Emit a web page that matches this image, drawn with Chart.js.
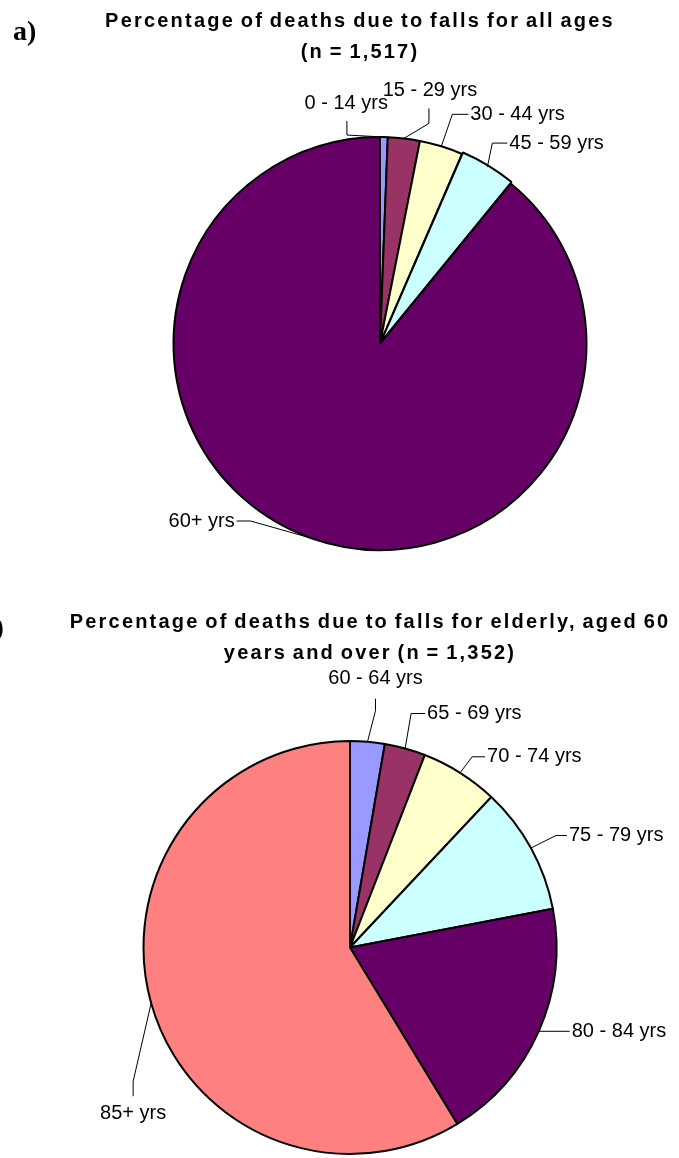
<!DOCTYPE html>
<html>
<head>
<meta charset="utf-8">
<script src="https://cdn.jsdelivr.net/npm/chart.js@4"></script>
<style>
  body { margin: 0; background: #fff; }
  .panel { position: absolute; left: 0; width: 679px; }
  #panelA { top: 0; height: 580px; }
  #panelB { top: 580px; height: 578px; }
</style>
</head>
<body>
<div class="panel" id="panelA"><canvas id="chartA" width="679" height="580"></canvas></div>
<div class="panel" id="panelB"><canvas id="chartB" width="679" height="578"></canvas></div>
<script>
// chart a: all ages (n = 1,517), percent of deaths
const agesA = ['0 - 14 yrs', '15 - 29 yrs', '30 - 44 yrs', '45 - 59 yrs', '60+ yrs'];
const pctA = [0.6, 2.5, 3.4, 4.4, 89.1];
const colorsA = ['#9999FF', '#993366', '#FFFFCC', '#CCFFFF', '#660066'];

// chart b: elderly 60+ (n = 1,352)
const agesB = ['60 - 64 yrs', '65 - 69 yrs', '70 - 74 yrs', '75 - 79 yrs', '80 - 84 yrs', '85+ yrs'];
const pctB = [2.7, 3.2, 6.1, 10.0, 19.3, 58.7];
const colorsB = ['#9999FF', '#993366', '#FFFFCC', '#CCFFFF', '#660066', '#FF8080'];

const titleA = ['Percentage of deaths due to falls for all ages', '(n = 1,517)'];
const titleB = ['Percentage of deaths due to falls for elderly, aged 60', 'years and over (n = 1,352)'];

// label placement, relative to the point where the leader meets the arc
// line: elbow points of the leader, text: [dx, dy, align]
const labelsA = [
	{ line: [[-37, -2], [-37, -16]], text: [4, -34, 'right'] },
	{ line: [[25, -15], [25, -30]], text: [26, -48, 'center'] },
	{ line: [[11, -32], [27, -32]], text: [29, -32, 'left'] },
	{ line: [[5, -24], [20, -24]], text: [22, -24, 'left'] },
	{ line: [[-60, -17], [-74, -17]], text: [-76, -17, 'right'] }
];
const labelsB = [
	{ line: [[8, -31], [8, -43]], text: [8, -63, 'center'] },
	{ line: [[6, -35], [20, -35]], text: [22, -35, 'left'] },
	{ line: [[12, -16], [25, -16]], text: [27, -16, 'left'] },
	{ line: [[25, -12.5], [36, -12.5]], text: [38, -12.5, 'left'] },
	{ line: [[31, 0]], text: [33, 0, 'left'] },
	{ line: [[-18, 78], [-18, 93]], text: [-18, 110, 'center'] }
];

// draws slice names with leader lines
const leaderLabels = {
	id: 'leaderLabels',
	afterDatasetsDraw(chart, args, opts) {
		const ctx = chart.ctx;
		const arcs = chart.getDatasetMeta(0).data;
		ctx.save();
		ctx.strokeStyle = '#000';
		ctx.lineWidth = 1;
		ctx.fillStyle = '#000';
		ctx.font = '20px "Liberation Sans", Arial, sans-serif';
		ctx.textBaseline = 'middle';
		arcs.forEach((arc, i) => {
			const p = arc.getProps(['x', 'y', 'startAngle', 'endAngle', 'outerRadius']);
			const mid = (p.startAngle + p.endAngle) / 2;
			const ax = p.x + p.outerRadius * Math.cos(mid);
			const ay = p.y + p.outerRadius * Math.sin(mid);
			const lab = opts.items[i];
			ctx.beginPath();
			ctx.moveTo(ax, ay);
			lab.line.forEach(pt => ctx.lineTo(ax + pt[0], ay + pt[1]));
			ctx.stroke();
			ctx.textAlign = lab.text[2];
			ctx.fillText(chart.data.labels[i], ax + lab.text[0], ay + lab.text[1]);
		});
		ctx.restore();
	}
};

// two-line bold title plus the panel letter
const panelTitle = {
	id: 'panelTitle',
	afterDraw(chart, args, opts) {
		const ctx = chart.ctx;
		ctx.save();
		ctx.fillStyle = '#000';
		ctx.textBaseline = 'alphabetic';
		ctx.textAlign = 'center';
		ctx.font = 'bold 20px "Liberation Sans", Arial, sans-serif';
		ctx.letterSpacing = '2.2px';
		ctx.wordSpacing = '-2px';
		opts.lines.forEach((txt, i) => {
			ctx.fillText(txt, opts.x, opts.y + i * 31);
		});
		ctx.letterSpacing = '0px';
		ctx.wordSpacing = '0px';
		ctx.textAlign = 'left';
		ctx.font = 'bold 28px "Liberation Serif", "Times New Roman", serif';
		ctx.fillText(opts.letter, opts.letterX, opts.letterY);
		ctx.restore();
	}
};

function buildPie(id, labels, values, colors, labelItems, title, padding, offsets) {
	return new Chart(document.getElementById(id), {
		type: 'pie',
		data: {
			labels: labels,
			datasets: [{
				data: values,
				backgroundColor: colors,
				borderColor: '#000',
				borderWidth: 2,
				offset: offsets
			}]
		},
		options: {
			responsive: false,
			animation: false,
			layout: { padding: padding },
			plugins: {
				legend: { display: false },
				tooltip: { enabled: false },
				leaderLabels: { items: labelItems },
				panelTitle: title
			}
		},
		plugins: [leaderLabels, panelTitle]
	});
}

buildPie('chartA', agesA, pctA, colorsA, labelsA,
	{ lines: titleA, x: 360, y: 27, letter: 'a)', letterX: 13, letterY: 40 },
	{ top: 134, bottom: 27, left: 170.5, right: 89.5 },
	[0, 0, 0, 4, 0]);

buildPie('chartB', agesB, pctB, colorsB, labelsB,
	{ lines: titleB, x: 370, y: 48, letter: 'b)', letterX: -21, letterY: 56 },
	{ top: 160, bottom: 3, left: 142.5, right: 121.5 },
	0);
</script>
</body>
</html>
